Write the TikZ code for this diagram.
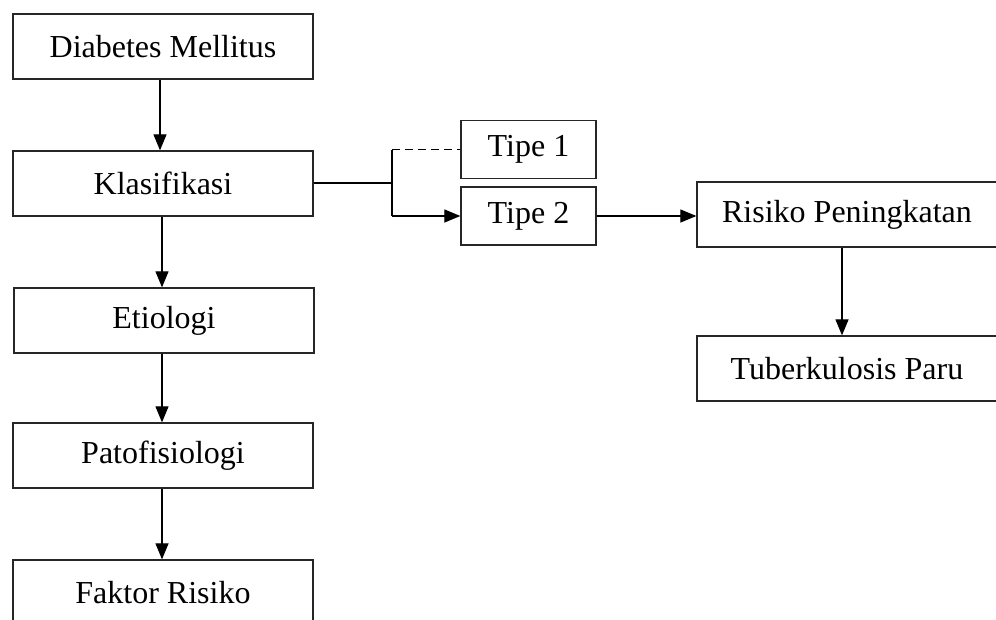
\documentclass[tikz,border=0pt]{standalone}
\usepackage{fontspec}
\setmainfont{Liberation Serif}
\usetikzlibrary{arrows.meta,calc}
\begin{document}
\begin{tikzpicture}[x=1pt,y=-1pt,
  box/.style={draw=black!85, line width=1.3pt, inner sep=0pt, minimum width=300pt, minimum height=65pt, font=\fontsize{32}{36}\selectfont},
  smallbox/.style={box, minimum width=135pt, minimum height=58pt},
  arr/.style={line width=1.2pt, -{Triangle[width=13pt,length=16pt]}},
  conn/.style={line width=1.2pt}]
\clip (0,0) rectangle (996,619);
\fill[white] (0,0) rectangle (996,619);
\node[box] (dm) at (163,46.5) {Diabetes Mellitus};
\node[box] (kl) at (163,183.5) {Klasifikasi};
\node[box] (et) at (164,320.5) {Etiologi};
\node[box] (pa) at (163,455.5) {Patofisiologi};
\node[box] (fr) at (163,592.5) {Faktor Risiko};
\node[smallbox] (t1) at (528.5,149.5) {Tipe 1};
\node[smallbox] (t2) at (528.5,216) {Tipe 2};
\node[box] (rp) at (847,214.5) {Risiko Peningkatan};
\node[box] (tb) at (847,368.5) {Tuberkulosis Paru};
\coordinate (j) at (392,183);
\draw[arr] (dm.south -| 160,0) -- (kl.north -| 160,0);
\draw[arr] (kl.south -| 162,0) -- (et.north -| 162,0);
\draw[arr] (et.south -| 162,0) -- (pa.north -| 162,0);
\draw[arr] (pa.south -| 162,0) -- (fr.north -| 162,0);
\draw[conn] (kl.east |- j) -- (j);
\draw[conn] (j |- t1.west) -- (j |- t2.west);
\draw[conn, line width=1.4pt, dash pattern=on 8pt off 5pt] (j |- t1.west) -- (t1.west);
\draw[arr] (j |- t2.west) -- (t2.west);
\draw[arr] (t2.east) -- (t2.east -| rp.west);
\draw[arr] (rp.south -| 842,0) -- (tb.north -| 842,0);
\end{tikzpicture}
\end{document}
